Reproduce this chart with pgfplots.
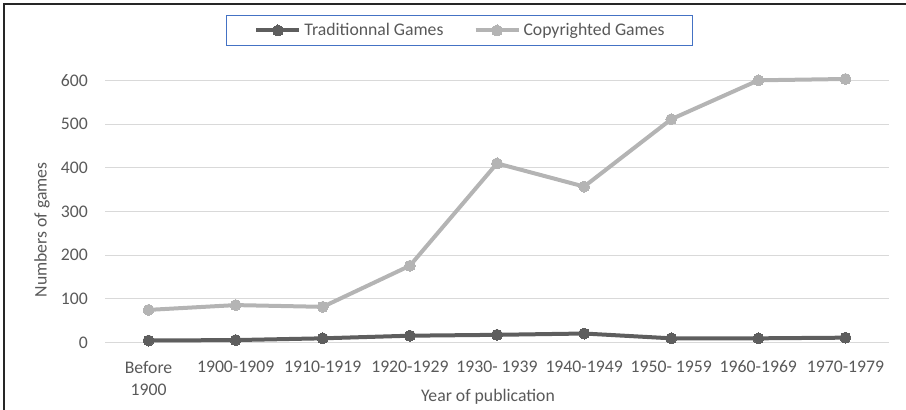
\documentclass[border=0pt]{standalone}
\usepackage{fontspec}
\setmainfont{Carlito}
\usepackage{pgfplots}
\pgfplotsset{compat=1.18}
\definecolor{txt}{RGB}{89,89,89}
\definecolor{trad}{RGB}{94,94,94}
\definecolor{cpy}{RGB}{180,180,180}
\definecolor{gridc}{RGB}{217,217,217}
\definecolor{legblue}{RGB}{68,114,196}
\newcommand{\chartfont}{\fontsize{17.7bp}{22bp}\selectfont}
\begin{document}
\begin{tikzpicture}
\path[use as bounding box] (0,0) rectangle (906bp,410bp);
\draw[line width=1.3bp, black!85] (4bp,0) -- (4bp,406bp) -- (906bp,406bp);
\begin{axis}[
  at={(105bp,67.3bp)}, anchor=south west,
  scale only axis, width=784bp, height=262.4bp,
  xmin=-0.5, xmax=8.5, ymin=0, ymax=600,
  clip=false,
  axis line style={draw=none},
  xtick={0,...,8},
  xticklabels={{Before\\1900},1900-1909,1910-1919,1920-1929,{1930- 1939},1940-1949,{1950- 1959},1960-1969,1970-1979},
  ytick={0,100,...,600},
  ymajorgrids, major grid style={gridc, line width=1bp},
  tick style={draw=none},
  /pgf/number format/assume math mode=true,
  ticklabel style={font=\chartfont, text=txt, inner sep=0pt},
  xticklabel style={align=center, anchor=north, yshift=-18bp},
  yticklabel style={anchor=east, xshift=-17bp},
  xlabel={Year of publication},
  ylabel={Numbers of games},
  label style={font=\chartfont, text=txt},
  xlabel style={at={(axis description cs:0.4885,-0.207)}, anchor=center},
  ylabel style={at={(axis description cs:-0.0804,0.4295)}, anchor=center},
  legend columns=2,
  legend style={at={(axis description cs:0.4522,1.1898)}, anchor=center,
    draw=legblue, line width=1bp, font=\chartfont, text=txt,
    inner xsep=28bp, inner ysep=8bp,
    nodes={inner sep=0pt},
    /tikz/every odd column/.append style={column sep=3bp},
    /tikz/every even column/.append style={column sep=30bp}},
  legend cell align=left,
  legend image code/.code={\draw[mark repeat=2,mark phase=2,#1] plot coordinates {(0bp,0bp)(21.5bp,0bp)(43bp,0bp)};},
]
\addplot[trad, line width=4bp, mark=*, mark size=5.5bp, mark options={fill=trad, draw=trad, line width=0pt}]
  coordinates {(0,5) (1,6) (2,10) (3,16) (4,18) (5,21) (6,10) (7,10) (8,11.5)};
\addlegendentry{Traditionnal Games}
\addplot[cpy, line width=4bp, mark=*, mark size=5.5bp, mark options={fill=cpy, draw=cpy, line width=0pt}]
  coordinates {(0,75) (1,86) (2,82) (3,176) (4,410) (5,357) (6,511) (7,600) (8,603)};
\addlegendentry{Copyrighted Games}
\end{axis}
\end{tikzpicture}
\end{document}
